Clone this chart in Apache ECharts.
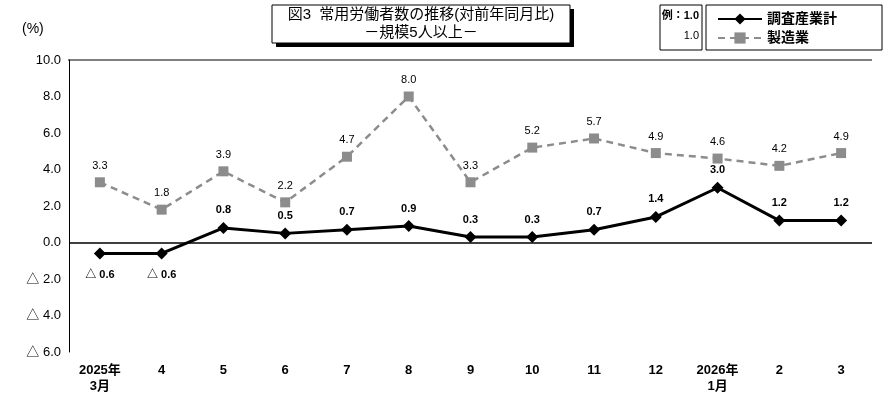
<!DOCTYPE html>
<html><head><meta charset="utf-8">
<script src="https://cdn.jsdelivr.net/npm/echarts@6/dist/echarts.min.js"></script>
<style>html,body{margin:0;background:#fff}#main{width:890px;height:405px}</style>
</head><body><div id="main"></div>
<script>
var months = ['2025年\n3月','4','5','6','7','8','9','10','11','12','2026年\n1月','2','3'];
var total = [-0.6,-0.6,0.8,0.5,0.7,0.9,0.3,0.3,0.7,1.4,3.0,1.2,1.2];
var manuf = [3.3,1.8,3.9,2.2,4.7,8.0,3.3,5.2,5.7,4.9,4.6,4.2,4.9];

function fmt(v){ return v < 0 ? '△ ' + Math.abs(v).toFixed(1) : v.toFixed(1); }
var F = '"Liberation Sans","Noto Sans CJK JP",sans-serif';

var chart = echarts.init(document.getElementById('main'));
chart.setOption({
  animation:false,
  textStyle:{fontFamily:F},
  grid:{left:69,right:18,top:60,bottom:53},
  legend:{
    orient:'vertical', left:712, top:7, itemGap:5, itemWidth:44, itemHeight:14,
    textStyle:{fontSize:14,fontWeight:'bold',color:'#000',fontFamily:F},
    data:['調査産業計','製造業']
  },
  xAxis:{
    type:'category', data:months, boundaryGap:true,
    axisLine:{show:false}, axisTick:{show:false},
    axisLabel:{color:'#000',fontSize:13,fontWeight:'bold',margin:10,lineHeight:16,verticalAlign:'top'}
  },
  yAxis:{
    type:'value', min:-6, max:10, interval:2,
    axisLine:{show:true,lineStyle:{color:'#000'}}, axisTick:{show:false},
    splitLine:{show:false},
    axisLabel:{color:'#000',fontSize:13,formatter:function(v){return fmt(v);}}
  },
  graphic:[
    {type:'rect',shape:{x:276,y:9,width:298,height:38},style:{fill:'#000'}},
    {type:'rect',shape:{x:272,y:5,width:298,height:38},style:{fill:'#fff',stroke:'#000',lineWidth:1}},
    {type:'text',style:{x:421,y:7,text:'図3  常用労働者数の推移(対前年同月比)',fill:'#000',font:'15px '+F,align:'center'}},
    {type:'text',style:{x:421,y:25,text:'－規模5人以上－',fill:'#000',font:'15px '+F,align:'center'}},
    {type:'rect',shape:{x:660,y:5,width:42,height:45},style:{fill:'none',stroke:'#000',lineWidth:1}},
    {type:'text',style:{x:699,y:10,text:'例：1.0',fill:'#000',font:'bold 11px '+F,align:'right'}},
    {type:'text',style:{x:699,y:30,text:'1.0',fill:'#000',font:'11px '+F,align:'right'}},
    {type:'rect',shape:{x:706,y:5,width:176,height:45},style:{fill:'none',stroke:'#000',lineWidth:1}},
    {type:'line',shape:{x1:68,y1:60,x2:872,y2:60},style:{stroke:'#000',lineWidth:1}},
    {type:'text',style:{x:22,y:22,text:'(%)',fill:'#000',font:'14px '+F}}
  ],
  series:[
    {name:'製造業',type:'line',data:manuf,symbol:'rect',symbolSize:10,
      lineStyle:{color:'#8c8c8c',width:2.5,type:[7,5]},itemStyle:{color:'#8c8c8c'},
      label:{show:true,position:'top',distance:6,color:'#000',fontSize:11,formatter:function(p){return fmt(p.value);}},
      markLine:{silent:true,symbol:'none',label:{show:false},lineStyle:{color:'#000',width:1.5,type:'solid'},data:[{yAxis:0}]}
    },
    {name:'調査産業計',type:'line',symbol:'diamond',symbolSize:12,
      data:total.map(function(v){ return v < 0 ? {value:v,label:{position:'bottom',distance:10}} : v; }),
      lineStyle:{color:'#000',width:3},itemStyle:{color:'#000'},z:3,
      label:{show:true,color:'#000',fontSize:11,fontWeight:'bold',position:'top',distance:6,
        formatter:function(p){return fmt(p.value);}}
    }
  ]
});
</script></body></html>
